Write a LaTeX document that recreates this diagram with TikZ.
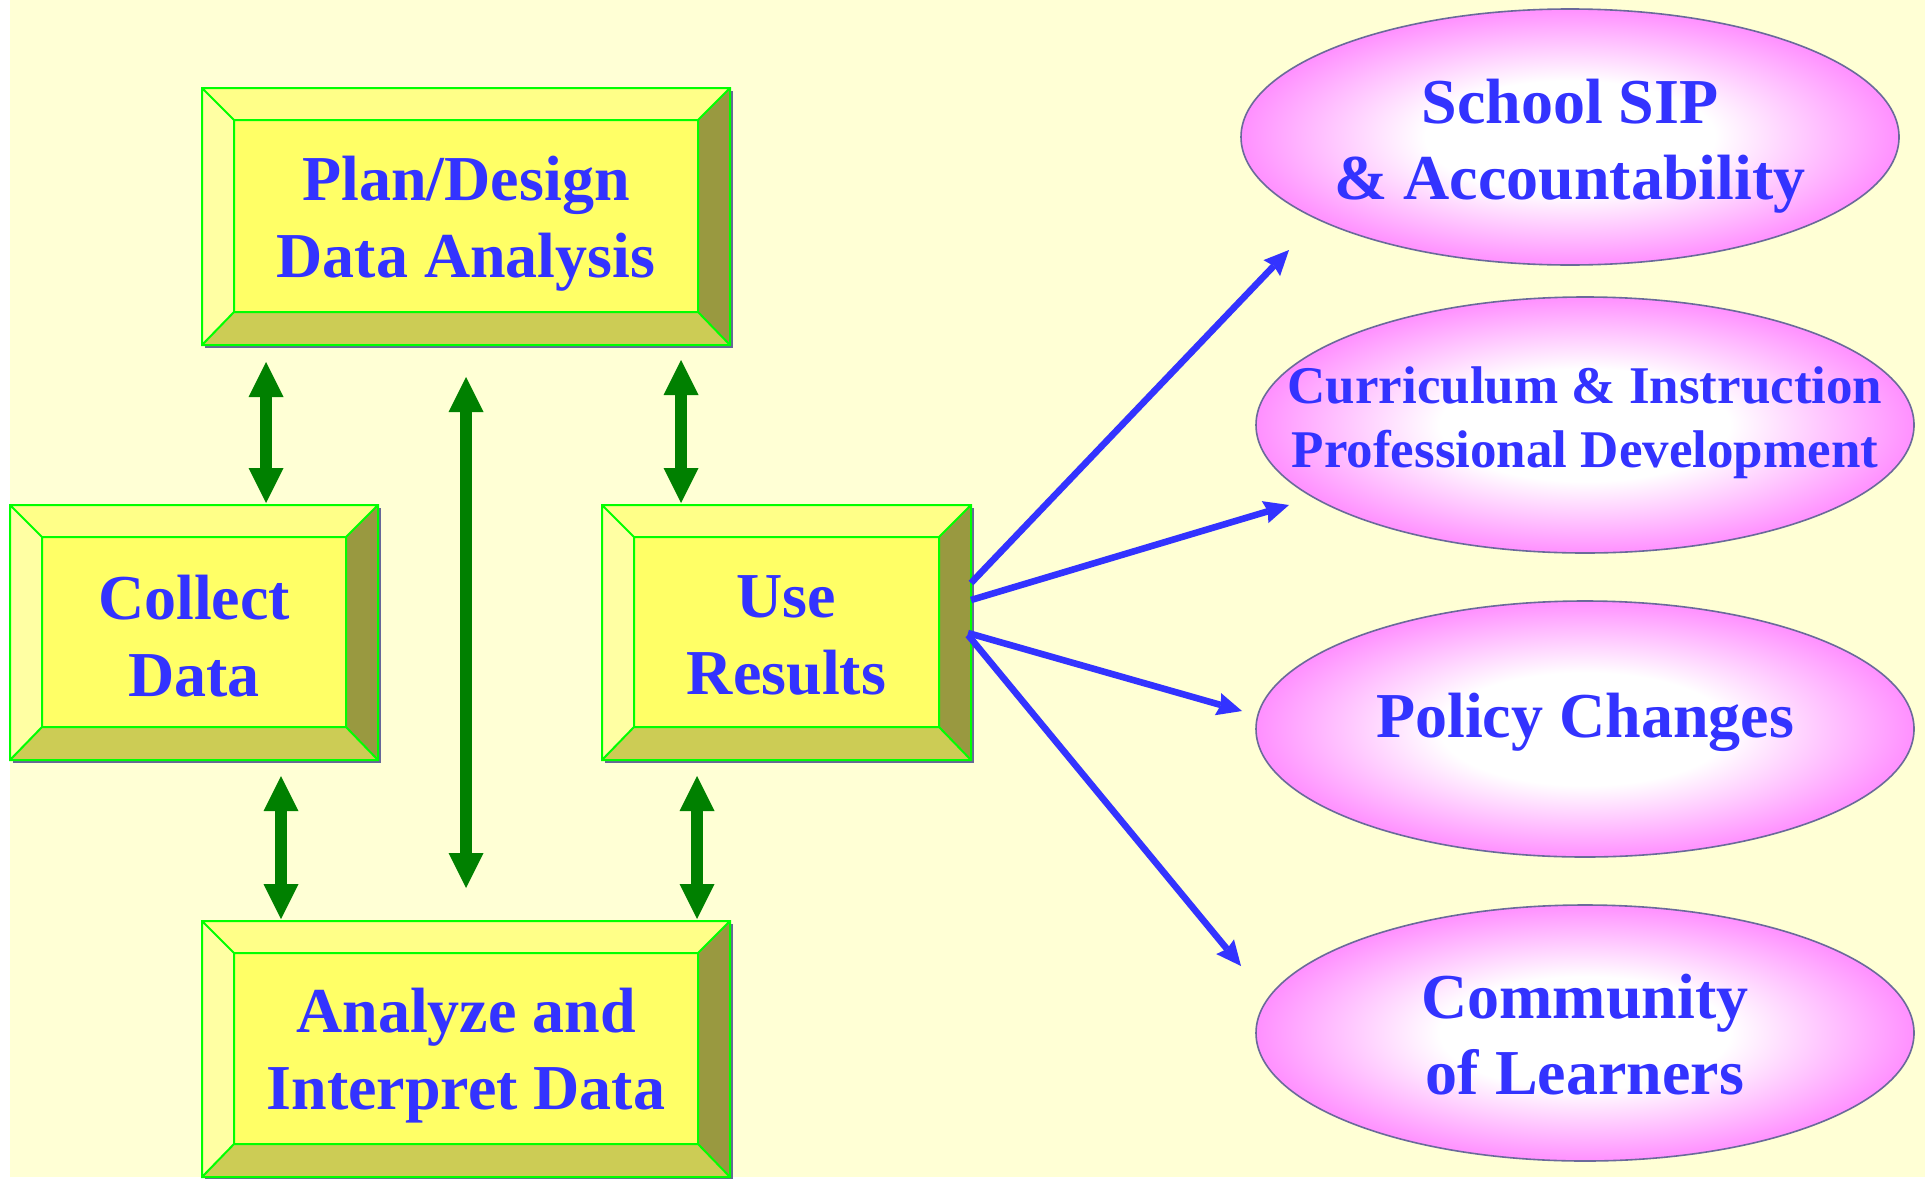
\documentclass[tikz,border=0pt]{standalone}
\usepackage{fontspec}
\setmainfont{Liberation Serif}
\usetikzlibrary{arrows.meta,calc}
\definecolor{bgc}{HTML}{FFFFD5}
\definecolor{facec}{HTML}{FFFF66}
\definecolor{topc}{HTML}{FFFF88}
\definecolor{leftc}{HTML}{FFFFA3}
\definecolor{botc}{HTML}{CCCC55}
\definecolor{rightc}{HTML}{999940}
\definecolor{edgec}{HTML}{00FF00}
\definecolor{shadc}{HTML}{666699}
\definecolor{lavc}{HTML}{C8C8F0}
\definecolor{txtblue}{HTML}{3333FF}
\definecolor{arrgreen}{HTML}{008000}
\definecolor{ellpink}{HTML}{FF88FF}
\definecolor{ellline}{HTML}{6A6A9A}
\pgfdeclareradialshading{pinkglow}{\pgfpoint{0bp}{0bp}}{color(0bp)=(white); color(11bp)=(white); color(26bp)=(ellpink); color(50bp)=(ellpink)}
\pgfdeclarelayer{bg}
\pgfsetlayers{bg,main}
\newcommand\bevbox[6]{%
  \node[boxtxt, minimum width={(#4-#2)*0.5pt}, minimum height={(#5-#3)*0.5pt}] (#1) at ({(#2+#4)/2},{(#3+#5)/2}) {#6};
  \begin{pgfonlayer}{bg}
    \path (#1.north west) coordinate (#1-a) (#1.north east) coordinate (#1-b)
          (#1.south east) coordinate (#1-c) (#1.south west) coordinate (#1-d);
    \path ($(#1-a)+(32,32)$) coordinate (#1-e) ($(#1-b)+(-32,32)$) coordinate (#1-f)
          ($(#1-c)+(-32,-33)$) coordinate (#1-g) ($(#1-d)+(32,-33)$) coordinate (#1-h);
    \fill[lavc] ([shift={(-1.5,-1.5)}]#1-a) rectangle ([shift={(-1.5,-1.5)}]#1-c);
    \fill[shadc] ([shift={(3,3)}]#1-a) rectangle ([shift={(3,3)}]#1-c);
    \fill[topc] (#1-a) -- (#1-b) -- (#1-f) -- (#1-e) -- cycle;
    \fill[leftc] (#1-a) -- (#1-e) -- (#1-h) -- (#1-d) -- cycle;
    \fill[botc] (#1-d) -- (#1-h) -- (#1-g) -- (#1-c) -- cycle;
    \fill[rightc] (#1-b) -- (#1-c) -- (#1-g) -- (#1-f) -- cycle;
    \fill[facec] (#1-e) rectangle (#1-g);
    \draw[edgec, line width=1pt] (#1-a) rectangle (#1-c) (#1-e) rectangle (#1-g)
      (#1-a) -- (#1-e) (#1-b) -- (#1-f) (#1-c) -- (#1-g) (#1-d) -- (#1-h);
  \end{pgfonlayer}%
}
\begin{document}
\begin{tikzpicture}[x=0.5pt,y=-0.5pt,
  boxtxt/.style={rectangle, inner sep=0pt, outer sep=0pt, align=center, text=txtblue,
    text depth=0pt, font=\fontsize{32}{38.5}\selectfont\bfseries},
  etxt/.style={inner sep=0pt, outer sep=0pt, align=center, text=txtblue,
    text depth=0pt, font=\fontsize{32}{38}\selectfont\bfseries},
  esmall/.style={font=\fontsize{26.5}{32}\selectfont\bfseries},
  ellsh/.style={shading=pinkglow, draw=ellline, line width=0.8pt},
  garrow/.style={draw=arrgreen, line width=6.3pt,
    {Triangle[length=17.5pt,width=17.5pt,line width=0pt]}-{Triangle[length=17.5pt,width=17.5pt,line width=0pt]}},
  barrow/.style={draw=txtblue, line width=3.3pt,
    -{Stealth[length=12.5pt,width=11.5pt,inset=1.5pt,line width=0pt]}}]
\useasboundingbox (0,0) rectangle (1925,1178);
\begin{pgfonlayer}{bg}
  \fill[white] (0,0) rectangle (1925,1178);
  \fill[bgc] (10,0) rectangle (1925,1177);
\end{pgfonlayer}
\bevbox{plan}{202}{88}{730}{345}{Plan/Design\\Data Analysis}
\bevbox{collect}{10}{505}{378}{760}{\raisebox{-3pt}{Collect}\\\raisebox{-3pt}{Data}}
\bevbox{use}{602}{505}{971}{760}{\raisebox{-3pt}{Use}\\\raisebox{-3pt}{Results}}
\bevbox{analyze}{202}{921}{730}{1177}{Analyze and\\Interpret Data}
% ellipses
\shadedraw[ellsh] (1570,137) ellipse [x radius=164.5pt, y radius=64pt];
\shadedraw[ellsh] (1585,425) ellipse [x radius=164.5pt, y radius=64pt];
\shadedraw[ellsh] (1585,729) ellipse [x radius=164.5pt, y radius=64pt];
\shadedraw[ellsh] (1585,1033) ellipse [x radius=164.5pt, y radius=64pt];
\node[etxt] (t1) at (1570,139) {School SIP\\\& Accountability};
\node[etxt, esmall] (t2) at (1585,417) {Curriculum \& Instruction\\Professional Development};
\node[etxt] (t3) at (1585,715) {Policy Changes};
\node[etxt] (t4) at (1585,1034) {Community\\of Learners};
% green arrows
\draw[garrow] ($(plan.south west)+(64,17)$) -- ($(collect.north west)+(256,-2)$);
\draw[garrow] ($(plan.south east)+(-49,15)$) -- ($(use.north west)+(79,-2)$);
\draw[garrow] ($(collect.south west)+(271,16)$) -- ($(analyze.north west)+(79,-2)$);
\draw[garrow] ($(use.south west)+(95,16)$) -- ($(analyze.north east)+(-33,-2)$);
\draw[garrow] ($(plan.south west)+(264,32)$) -- ($(analyze.north west)+(264,-33)$);
% blue arrows
\draw[barrow] ($(use.north east)+(0,78)$) -- ($(t1)+(-281,111)$);
\draw[barrow] ($(use.north east)+(0,95)$) -- ($(t2)+(-296,88)$);
\draw[barrow] ($(use.north east)+(-3,128)$) -- ($(t3)+(-343,-4)$);
\draw[barrow] ($(use.north east)+(-3,130)$) -- ($(t4)+(-344,-68)$);
\end{tikzpicture}
\end{document}
